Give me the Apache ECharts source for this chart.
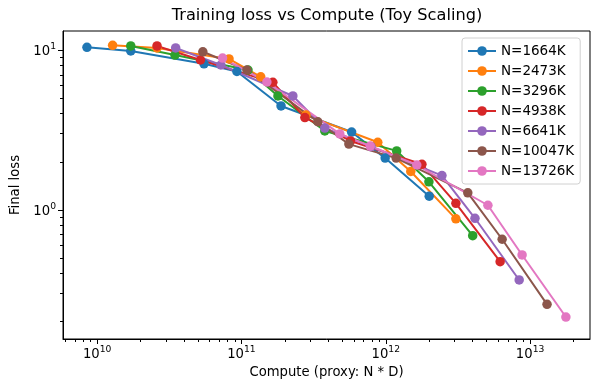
<!DOCTYPE html>
<html><head><meta charset="utf-8">
<script src="https://cdn.jsdelivr.net/npm/echarts@6/dist/echarts.min.js"></script>
<style>html,body{margin:0;padding:0;background:#fff}#c{width:600px;height:387px}</style>
</head><body><div id="c"></div>
<script>
// ---- data ----
const seriesNames = ['N=1664K','N=2473K','N=3296K','N=4938K','N=6641K','N=10047K','N=13726K'];
const seriesColors = ['#1f77b4','#ff7f0e','#2ca02c','#d62728','#9467bd','#8c564b','#e377c2'];

const compute1664  = [8.5e9, 1.71e10, 5.5e10, 9.3e10, 1.88e11, 5.8e11, 9.9e11, 2.0e12];
const loss1664     = [10.4, 9.86, 8.2, 7.34, 4.47, 3.07, 2.11, 1.22];
const compute2473  = [1.28e10, 2.6e10, 8.2e10, 1.36e11, 2.8e11, 8.8e11, 1.49e12, 3.06e12];
const loss2473     = [10.7, 10.3, 8.8, 6.8, 3.92, 2.65, 1.74, 0.88];
const compute3296  = [1.71e10, 3.46e10, 1.11e11, 1.79e11, 3.78e11, 1.19e12, 1.99e12, 4.0e12];
const loss3296     = [10.6, 9.3, 7.5, 5.16, 3.12, 2.34, 1.5, 0.69];
const compute4938  = [2.6e10, 5.2e10, 1.65e11, 2.75e11, 5.7e11, 1.78e12, 3.06e12, 6.2e12];
const loss4938     = [10.6, 8.66, 6.28, 3.78, 2.7, 1.93, 1.1, 0.475];
const compute6641  = [3.5e10, 7.2e10, 2.27e11, 3.78e11, 7.9e11, 2.45e12, 4.15e12, 8.4e12];
const loss6641     = [10.3, 8.06, 5.16, 3.25, 2.49, 1.64, 0.887, 0.365];
const compute10047 = [5.4e10, 1.09e11, 3.38e11, 5.55e11, 1.18e12, 3.7e12, 6.4e12, 1.31e13];
const loss10047    = [9.75, 7.5, 3.56, 2.58, 2.11, 1.28, 0.656, 0.257];
const compute13726 = [7.4e10, 1.5e11, 4.8e11, 7.8e11, 1.64e12, 5.1e12, 8.8e12, 1.77e13];
const loss13726    = [8.9, 6.31, 2.99, 2.51, 1.91, 1.07, 0.523, 0.214];

const xMajorTicks = [1e10, 1e11, 1e12, 1e13];
const xMinorTicks = [6e9,7e9,8e9,9e9, 2e10,3e10,4e10,5e10,6e10,7e10,8e10,9e10,
                     2e11,3e11,4e11,5e11,6e11,7e11,8e11,9e11, 2e12,3e12,4e12,5e12,6e12,7e12,8e12,9e12, 2e13];
const yMajorTicks = [1, 10];
const yMinorTicks = [0.2,0.3,0.4,0.5,0.6,0.7,0.8,0.9, 2,3,4,5,6,7,8,9];

const xRange = [5.8e9, 2.6e13];
const yRange = [0.156, 13.15];

// ---- chart ----
const FONT = 'DejaVu Sans';
const allCompute = [compute1664, compute2473, compute3296, compute4938, compute6641, compute10047, compute13726];
const allLoss = [loss1664, loss2473, loss3296, loss4938, loss6641, loss10047, loss13726];

function powLabel(v) {
  const e = Math.round(Math.log10(v));
  return '{b|10}{s|' + e + '}';
}
const richSup = {
  b: { fontSize: 13.2, fontFamily: FONT, color: '#000', verticalAlign: 'bottom' },
  s: { fontSize: 9.2, fontFamily: FONT, color: '#000', verticalAlign: 'bottom', padding: [0, 0, 7, 0] }
};

const series = seriesNames.map((name, i) => ({
  name: name,
  type: 'line',
  xAxisIndex: 0, yAxisIndex: 0,
  data: allCompute[i].map((c, j) => [c, allLoss[i][j]]),
  symbol: 'circle',
  symbolSize: 9.5,
  showSymbol: true,
  lineStyle: { width: 2, color: seriesColors[i] },
  itemStyle: { color: seriesColors[i] },
  emphasis: { disabled: true },
  animation: false
}));

const chart = echarts.init(document.getElementById('c'), null, { renderer: 'canvas' });
chart.setOption({
  animation: false,
  backgroundColor: '#fff',
  title: {
    text: 'Training loss vs Compute (Toy Scaling)',
    left: 327, top: 8, textAlign: 'center', padding: 0,
    textStyle: { fontSize: 16.2, fontWeight: 'normal', fontFamily: FONT, color: '#000' }
  },
  grid: { left: 63, right: 10, top: 31, bottom: 48, show: true, borderColor: '#000', borderWidth: 1, backgroundColor: 'transparent' },
  legend: {
    data: seriesNames,
    orient: 'vertical',
    left: 462, top: 38,
    itemWidth: 28, itemHeight: 12, itemGap: 6,
    padding: [6, 6, 6, 5],
    backgroundColor: 'rgba(255,255,255,0.8)',
    borderColor: '#d0d0d0', borderWidth: 1, borderRadius: 3,
    textStyle: { fontSize: 13.5, fontFamily: FONT, color: '#000', lineHeight: 14 }
  },
  xAxis: [{
    type: 'log', logBase: 10, min: xRange[0], max: xRange[1],
    position: 'bottom',
    name: 'Compute (proxy: N * D)', nameLocation: 'middle', nameGap: 22,
    nameTextStyle: { fontSize: 13.2, fontFamily: FONT, color: '#000' },
    axisLine: { show: true, lineStyle: { color: '#000', width: 1 } },
    axisTick: { show: true, length: 5, customValues: xMajorTicks, lineStyle: { color: '#000' } },
    axisLabel: { show: true, customValues: xMajorTicks, margin: 6, formatter: powLabel, rich: richSup },
    splitLine: { show: false }, minorTick: { show: false }
  }, {
    type: 'log', logBase: 10, min: xRange[0], max: xRange[1],
    position: 'bottom',
    axisLine: { show: false },
    axisTick: { show: true, length: 3, customValues: xMinorTicks, lineStyle: { color: '#000' } },
    axisLabel: { show: false },
    splitLine: { show: false }
  }],
  yAxis: [{
    type: 'log', logBase: 10, min: yRange[0], max: yRange[1],
    position: 'left',
    name: 'Final loss', nameLocation: 'middle', nameGap: 38,
    nameTextStyle: { fontSize: 13.2, fontFamily: FONT, color: '#000' },
    axisLine: { show: true, lineStyle: { color: '#000', width: 1 } },
    axisTick: { show: true, length: 5, customValues: yMajorTicks, lineStyle: { color: '#000' } },
    axisLabel: { show: true, customValues: yMajorTicks, margin: 7, formatter: powLabel, rich: richSup },
    splitLine: { show: false }, minorTick: { show: false }
  }, {
    type: 'log', logBase: 10, min: yRange[0], max: yRange[1],
    position: 'left',
    axisLine: { show: false },
    axisTick: { show: true, length: 3, customValues: yMinorTicks, lineStyle: { color: '#000' } },
    axisLabel: { show: false },
    splitLine: { show: false }
  }],
  series: series
});
</script>
</body></html>
